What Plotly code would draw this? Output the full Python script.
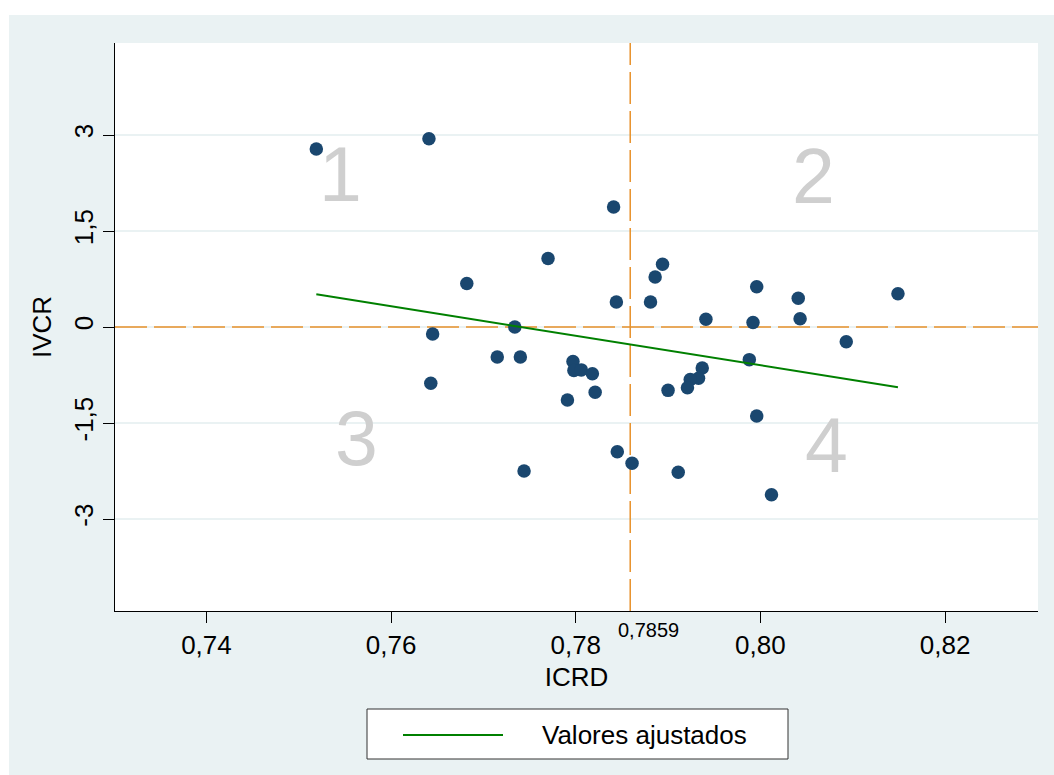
import plotly.graph_objects as go

# ---- data ----
icrd = [0.7519, 0.7641, 0.7841, 0.7770, 0.7682, 0.7844, 0.7734, 0.7645,
        0.7894, 0.7886, 0.7881, 0.7941, 0.7996, 0.7992, 0.8041, 0.8043,
        0.8149, 0.8093, 0.7988, 0.7937, 0.7933, 0.7924, 0.7921, 0.7900,
        0.7996, 0.7715, 0.7740, 0.7643, 0.7797, 0.7798, 0.7806, 0.7818,
        0.7821, 0.7791, 0.7845, 0.7861, 0.7744, 0.7911, 0.8012]
ivcr = [2.78, 2.94, 1.875, 1.07, 0.68, 0.39, 0.00, -0.11,
        0.98, 0.78, 0.39, 0.12, 0.63, 0.07, 0.45, 0.13,
        0.52, -0.23, -0.51, -0.64, -0.80, -0.82, -0.95, -0.99,
        -1.39, -0.47, -0.47, -0.88, -0.54, -0.68, -0.67, -0.73,
        -1.02, -1.14, -1.95, -2.13, -2.25, -2.27, -2.62]

fit_x = [0.7519, 0.8149]
fit_y = [0.51, -0.94]

mean_icrd = 0.7859
ref_y = 0.0

x_tickvals = [0.74, 0.76, 0.78, 0.80, 0.82]
x_ticktext = ["0,74", "0,76", "0,78", "0,80", "0,82"]
y_tickvals = [-3, -1.5, 0, 1.5, 3]
y_ticktext = ["-3", "-1,5", "0", "1,5", "3"]

quad_labels = ["1", "2", "3", "4"]
quad_x = [0.75455, 0.80578, 0.7563, 0.80719]
quad_y = [2.39, 2.36, -1.73, -1.85]

x_range = [0.730095, 0.830068]
y_range = [-4.4375, 4.4375]

FONT = "Liberation Sans, Arial, sans-serif"
NAVY = "#1A476F"
ORANGE = "#E8912B"
GREEN = "#008000"
BG = "#EAF2F3"

fig = go.Figure()

# reference lines (mean ICRD, IVCR = 0)
fig.add_trace(go.Scatter(x=x_range, y=[ref_y, ref_y], mode="lines",
                         line=dict(color=ORANGE, width=1.5, dash="32px,7px"),
                         hoverinfo="skip", showlegend=False))
fig.add_trace(go.Scatter(x=[mean_icrd, mean_icrd], y=y_range, mode="lines",
                         line=dict(color=ORANGE, width=1.5, dash="32px,7px"),
                         hoverinfo="skip", showlegend=False))

# scatter
fig.add_trace(go.Scatter(x=icrd, y=ivcr, mode="markers",
                         marker=dict(color=NAVY, size=13.5, line=dict(width=0)),
                         name="IVCR", showlegend=False))

# fitted values
fig.add_trace(go.Scatter(x=fit_x, y=fit_y, mode="lines",
                         line=dict(color=GREEN, width=2),
                         name="Valores ajustados", showlegend=False))

# quadrant numbers
for t, qx, qy in zip(quad_labels, quad_x, quad_y):
    fig.add_annotation(x=qx, y=qy, xref="x", yref="y", text=t, showarrow=False,
                       font=dict(family=FONT, size=77, color="#CFCFCF"))

# mean label under the x axis
fig.add_annotation(x=mean_icrd, y=0, xref="x", yref="paper", text="0,7859",
                   showarrow=False, xanchor="left", yanchor="top", xshift=-14, yshift=-6,
                   font=dict(family=FONT, size=20, color="black"))

W, H = 1054, 775
L, R, T, B = 115, 16, 43, 164
pw, ph = W - L - R, H - T - B

def px_x(p):
    return (p - L) / pw

def px_y(p):
    return (H - B - p) / ph

shapes = [
    # white strips at top and left of the page
    dict(type="rect", xref="paper", yref="paper", x0=px_x(0), x1=px_x(9),
         y0=px_y(H), y1=px_y(0), fillcolor="white", line=dict(width=0), layer="below"),
    dict(type="rect", xref="paper", yref="paper", x0=px_x(0), x1=px_x(W),
         y0=px_y(15), y1=px_y(0), fillcolor="white", line=dict(width=0), layer="below"),
    # legend box
    dict(type="rect", xref="paper", yref="paper", x0=px_x(367), x1=px_x(788),
         y0=px_y(759), y1=px_y(709), fillcolor="white", line=dict(color="#333333", width=1)),
    dict(type="line", xref="paper", yref="paper", x0=px_x(403), x1=px_x(503),
         y0=px_y(735), y1=px_y(735), line=dict(color=GREEN, width=2)),
]
fig.add_annotation(x=px_x(540), y=px_y(735), xref="paper", yref="paper",
                   text="Valores ajustados", showarrow=False, xanchor="left", yanchor="middle",
                   font=dict(family=FONT, size=26, color="black"))

fig.update_layout(
    width=W, height=H,
    margin=dict(l=L, r=R, t=T, b=B, pad=0),
    paper_bgcolor=BG, plot_bgcolor="white",
    font=dict(family=FONT, size=26, color="black"),
    shapes=shapes,
    showlegend=False,
    xaxis=dict(range=x_range, tickvals=x_tickvals, ticktext=x_ticktext,
               showgrid=False, zeroline=False, showline=True, linecolor="black",
               linewidth=1, ticks="outside", ticklen=11, tickcolor="black",
               tickfont=dict(size=26), title=dict(text="ICRD", standoff=8,
                                                  font=dict(size=26))),
    yaxis=dict(range=y_range, tickvals=y_tickvals, ticktext=y_ticktext,
               showgrid=True, gridcolor=BG, gridwidth=2, zeroline=False,
               showline=True, linecolor="black", linewidth=1, ticks="outside",
               ticklen=11, tickcolor="black", tickangle=-90,
               tickfont=dict(size=26), title=dict(text="IVCR", standoff=9,
                                                  font=dict(size=26))),
)

fig.write_html("out.html")
